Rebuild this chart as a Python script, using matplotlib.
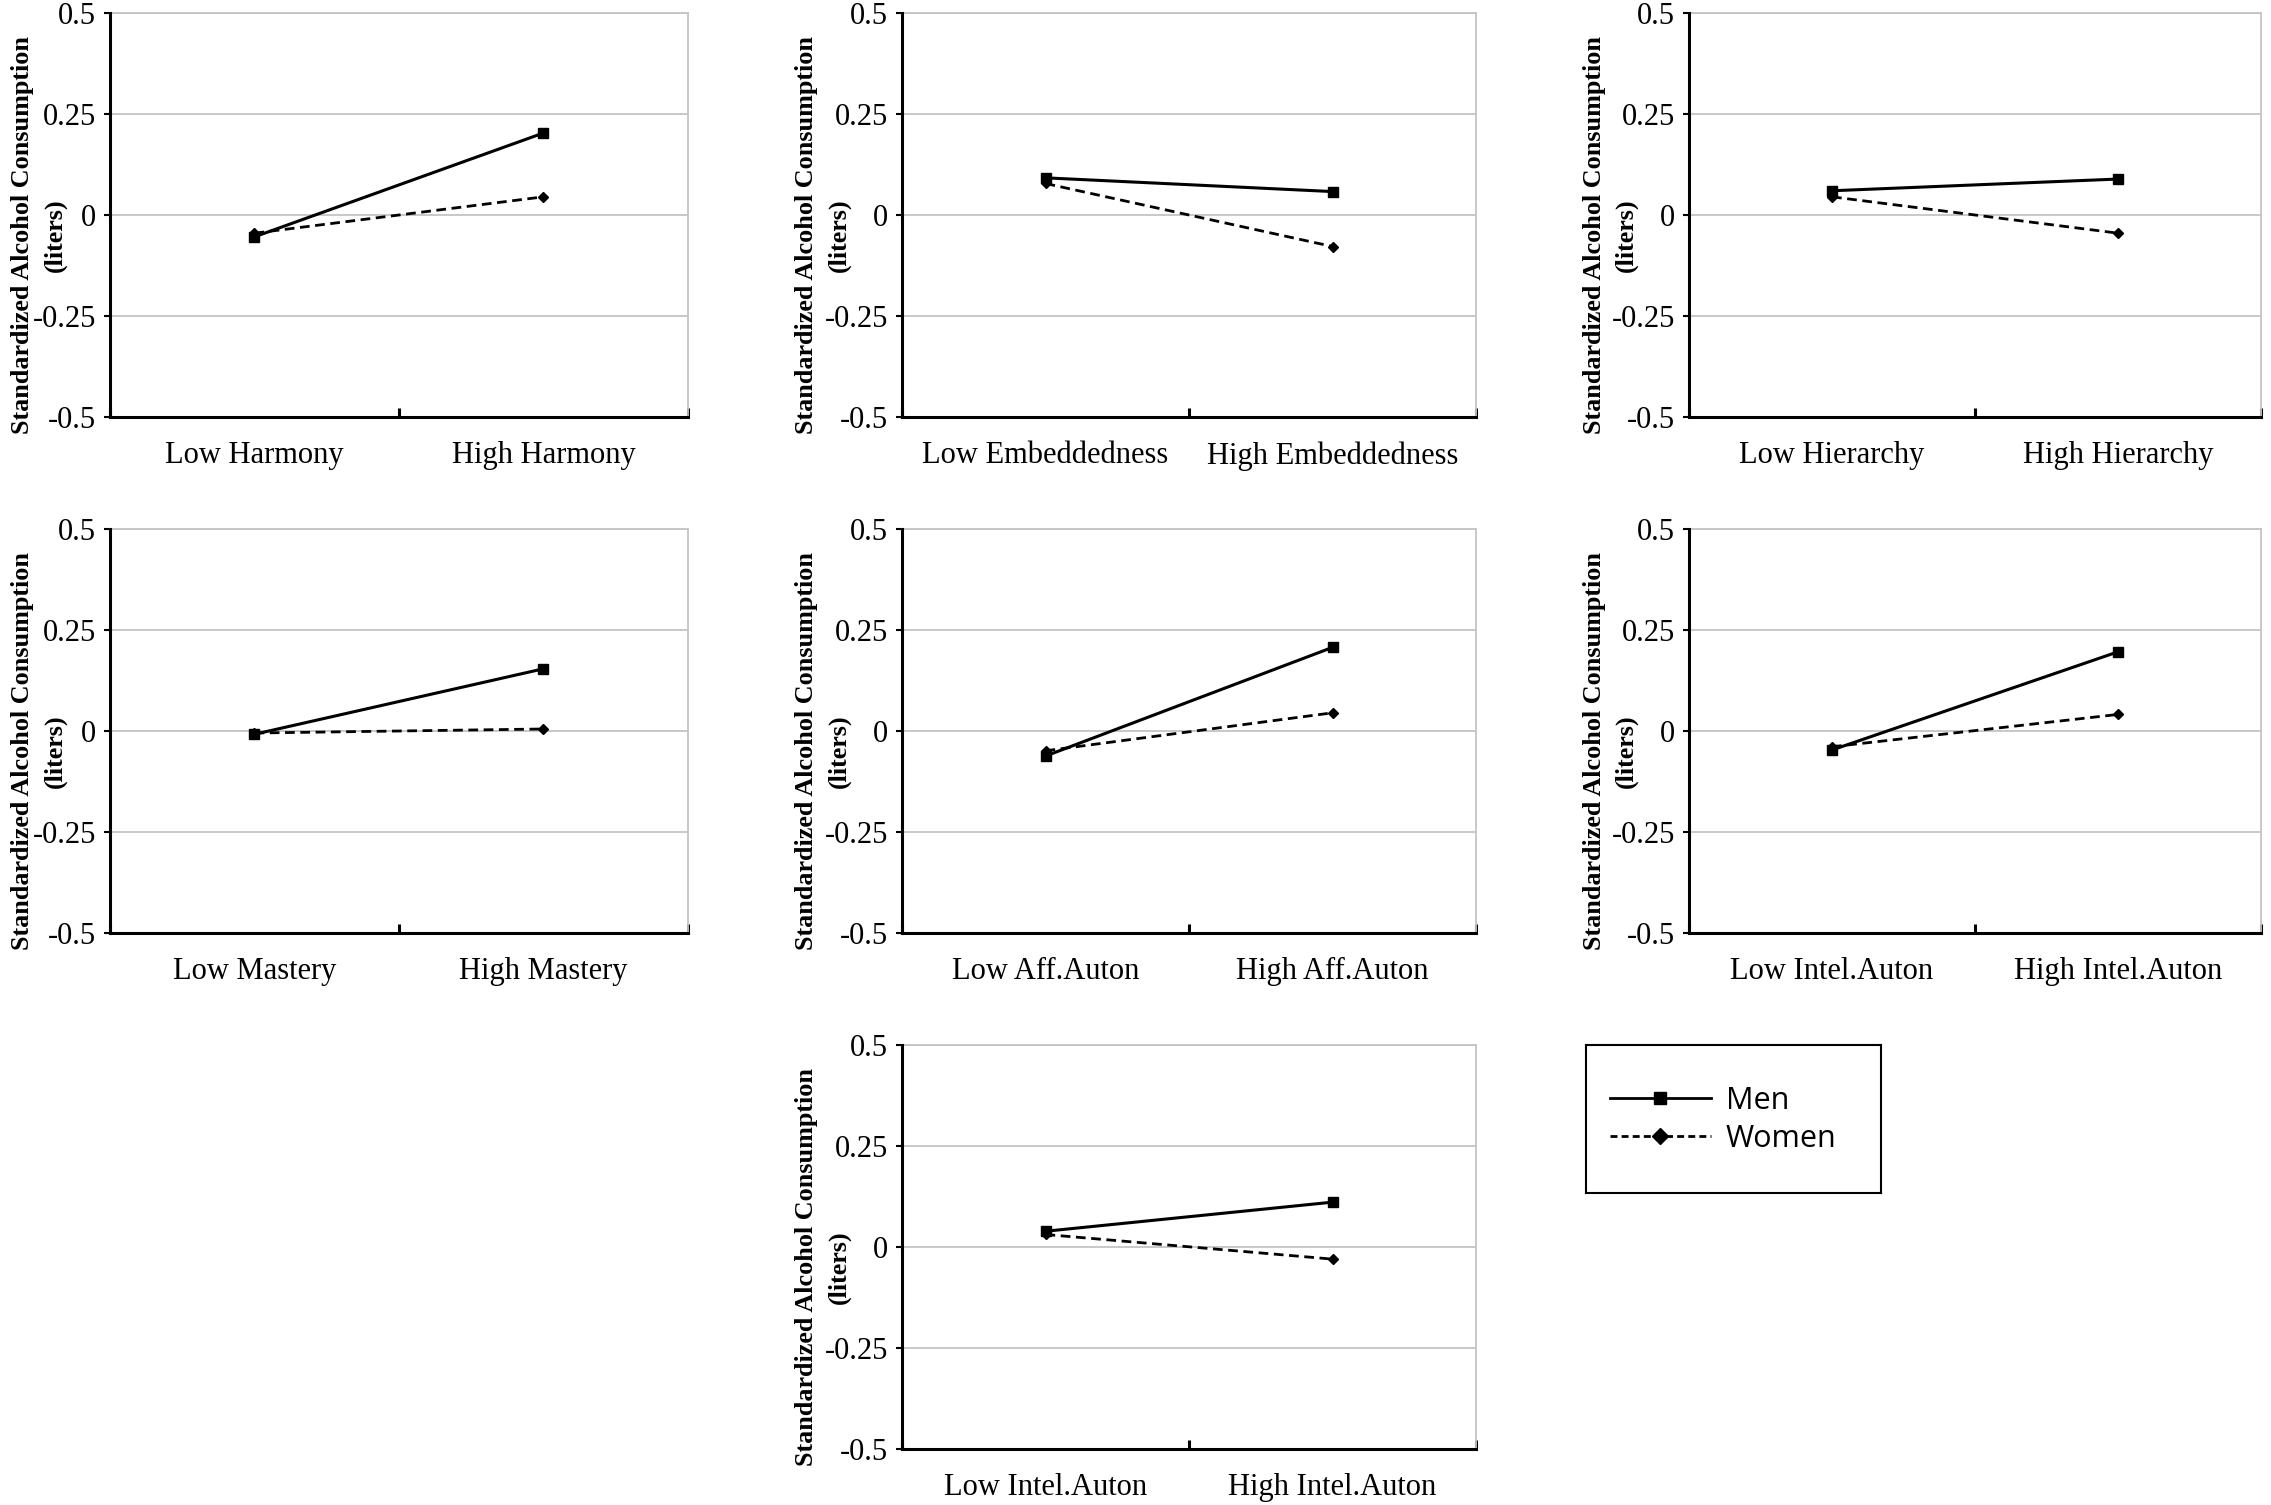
import matplotlib
matplotlib.use('Agg')
import matplotlib.pyplot as plt
from matplotlib.lines import Line2D
from matplotlib.transforms import ScaledTranslation

# ---------------- data ----------------
factors = ["Harmony", "Embeddedness", "Hierarchy", "Mastery",
           "Aff.Auton", "Intel.Auton", "Intel.Auton"]
levels = ["Low", "High"]
men_low = [-0.054, 0.092, 0.060, -0.008, -0.062, -0.047, 0.039]
men_high = [0.203, 0.058, 0.089, 0.154, 0.207, 0.196, 0.111]
women_low = [-0.045, 0.078, 0.045, -0.005, -0.049, -0.039, 0.031]
women_high = [0.045, -0.078, -0.045, 0.005, 0.045, 0.041, -0.030]
yticks = [-0.5, -0.25, 0, 0.25, 0.5]
ytick_labels = ["-0.5", "-0.25", "0", "0.25", "0.5"]
series_names = ["Men", "Women"]
ylabel_lines = ["Standardized Alcohol Consumption", "(liters)"]

# ---------------- layout ----------------
W, H = 2271, 1505
fig = plt.figure(figsize=(W / 100, H / 100), dpi=100)
fig.patch.set_facecolor('white')

col_x = [(110, 688), (902, 1476), (1689, 2261)]
row_y = [(13, 417), (529, 933), (1045, 1449)]
grid_pos = [(0, 0), (0, 1), (0, 2), (1, 0), (1, 1), (1, 2), (2, 1)]
label_off = [44, 52, 52]
line_offsets = [43, 11]   # extra px left of label_off for line1 / line2 centres

SERIF = ['Liberation Serif', 'DejaVu Serif']
SANS = ['Open Sans', 'DejaVu Sans']
GRID = '#c4c4c4'

for i, (r, c) in enumerate(grid_pos):
    x0, x1 = col_x[c]
    y0, y1 = row_y[r]
    ax = fig.add_axes([x0 / W, 1 - y1 / H, (x1 - x0) / W, (y1 - y0) / H])
    xs = [0, 1]
    ax.plot(xs, [women_low[i], women_high[i]], color='black', lw=2.0,
            dashes=(3.5, 2), marker='D', markersize=5.5, zorder=3)
    ax.plot(xs, [men_low[i], men_high[i]], color='black', lw=2.2,
            marker='s', markersize=7.5, zorder=4)

    ax.set_xlim(-0.5, 1.5)
    ax.set_ylim(-0.5, 0.5)
    ax.set_yticks(yticks)
    ax.set_yticklabels(ytick_labels, family=SERIF, fontsize=22)
    ax.set_xticks(xs)
    ax.set_xticklabels([f"{lv} {factors[i]}" for lv in levels],
                       family=SERIF, fontsize=22)
    ax.set_xticks([-0.5, 0.5, 1.5], minor=True)
    ax.tick_params(axis='x', which='major', length=0, pad=17.5)
    ax.tick_params(axis='x', which='minor', direction='in', length=6.5,
                   width=2.2, color='black')
    ax.tick_params(axis='y', which='major', direction='out', length=4,
                   width=1.5, color='black', pad=6)

    ax.set_axisbelow(True)
    ax.grid(axis='y', color=GRID, lw=1.3)
    for s in ['left', 'bottom']:
        ax.spines[s].set_color('black')
        ax.spines[s].set_linewidth(2.2)
        ax.spines[s].set_zorder(5)
    for s in ['top', 'right']:
        ax.spines[s].set_color(GRID)
        ax.spines[s].set_linewidth(1.3)

    # two-line y label, drawn as two separate rotated texts
    for txt, extra in zip(ylabel_lines, line_offsets):
        trans = ax.transAxes + ScaledTranslation(
            -(label_off[c] + extra) / 100, -20 / 100, fig.dpi_scale_trans)
        ax.text(0, 0.5, txt, transform=trans, rotation=90,
                rotation_mode='anchor', ha='center', va='center',
                family=SERIF, fontsize=18.8, fontweight='bold')

# ---------------- legend ----------------
lx0, lx1, ly0, ly1 = 1586, 1881, 1045, 1193
lax = fig.add_axes([lx0 / W, 1 - ly1 / H, (lx1 - lx0) / W, (ly1 - ly0) / H])
lax.set_xticks([])
lax.set_yticks([])
for s in lax.spines.values():
    s.set_color('black')
    s.set_linewidth(1.5)
handles = [Line2D([], [], color='black', lw=2.0, marker='s', markersize=9),
           Line2D([], [], color='black', lw=2.0, dashes=(2.5, 1.5),
                  marker='D', markersize=8)]
lax.legend(handles, series_names, loc='upper left',
           bbox_to_anchor=(0.081, 0.724), frameon=False,
           prop={'family': SANS, 'size': 22}, handlelength=3.3,
           handletextpad=0.5, labelspacing=0.27, borderpad=0,
           borderaxespad=0)

fig.savefig('out.png', dpi=100, facecolor='white')
